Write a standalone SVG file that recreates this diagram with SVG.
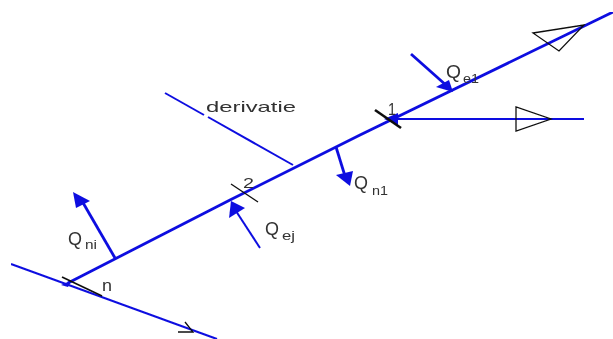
<svg xmlns="http://www.w3.org/2000/svg" width="613" height="339" viewBox="0 0 613 339">
<defs><filter id="soft" x="0" y="0" width="100%" height="100%"><feGaussianBlur stdDeviation="0.35"/></filter></defs>
<style>
.b{stroke:#1010e0;fill:none;stroke-width:2.8}
.t{stroke:#1010e0;fill:none;stroke-width:2}
.k{stroke:#111;fill:none;stroke-width:1.3}
.h{fill:#1010e0;stroke:none}
text{font-family:"Liberation Sans",Arial,sans-serif;fill:#333;font-size:15px}
.s{font-size:13px}
.q{font-size:18px}
</style>
<rect width="613" height="339" fill="#fff"/>
<g filter="url(#soft)">
<g id="connectors">
<path class="b" d="M68 283L230 200L360 135L613 12"/>
<path class="t" d="M11 264L217 339"/>
<path class="t" d="M398 119H584"/>
<path class="t" d="M165 93L204 115M208 117L293 165"/>
<path class="b" d="M411 54L447 86"/>
<path class="h" d="M436 87L449 80L453 92Z"/>
<path class="b" d="M336 147L345 176"/>
<path class="h" d="M336 175L353 171L350 186Z"/>
<path class="t" d="M260 248L234 208"/>
<path class="h" d="M231 201L245 208L229 218Z"/>
<path class="b" d="M115 258L82 201"/>
<path class="h" d="M73 192L90 201L76 208Z"/>
<path class="h" d="M384 119L398 113L398 125Z"/>
<path class="h" d="M61 285L72 280L68 287Z"/>
</g>
<g id="node-1"><path stroke="#111" stroke-width="2.6" fill="none" d="M375 110L401 128"/><text x="388" y="115" style="font-size:16px" textLength="8" lengthAdjust="spacingAndGlyphs">1</text></g>
<g id="node-2"><path class="k" d="M231 184L258 202"/><text x="243" y="188" textLength="11" lengthAdjust="spacingAndGlyphs">2</text></g>
<g id="node-n"><path stroke="#111" stroke-width="1.7" fill="none" d="M62 277L102 296"/><text x="102" y="291" style="font-size:16px" textLength="10" lengthAdjust="spacingAndGlyphs">n</text></g>
<g id="arrow-top"><path class="k" d="M533 33L584 25L559 51Z"/></g>
<g id="arrow-right"><path class="k" d="M516 107V131L551 119Z"/></g>
<g id="arrow-bottom"><path class="k" d="M178 332H193L185 322"/></g>
<g id="derivatie"><text x="206" y="112" textLength="90" lengthAdjust="spacingAndGlyphs">derivatie</text></g>
<g id="label-qe1"><text class="q" x="446" y="78" textLength="15" lengthAdjust="spacingAndGlyphs">Q</text><text class="s" x="463" y="83" textLength="16" lengthAdjust="spacingAndGlyphs">e1</text></g>
<g id="label-qn1"><text class="q" x="354" y="189" textLength="14" lengthAdjust="spacingAndGlyphs">Q</text><text class="s" x="372" y="195" textLength="16" lengthAdjust="spacingAndGlyphs">n1</text></g>
<g id="label-qej"><text class="q" x="265" y="235" textLength="14" lengthAdjust="spacingAndGlyphs">Q</text><text class="s" x="282" y="240" textLength="13" lengthAdjust="spacingAndGlyphs">ej</text></g>
<g id="label-qni"><text class="q" x="68" y="245" textLength="14" lengthAdjust="spacingAndGlyphs">Q</text><text class="s" x="85" y="249" textLength="12" lengthAdjust="spacingAndGlyphs">ni</text></g>
</g>
</svg>
